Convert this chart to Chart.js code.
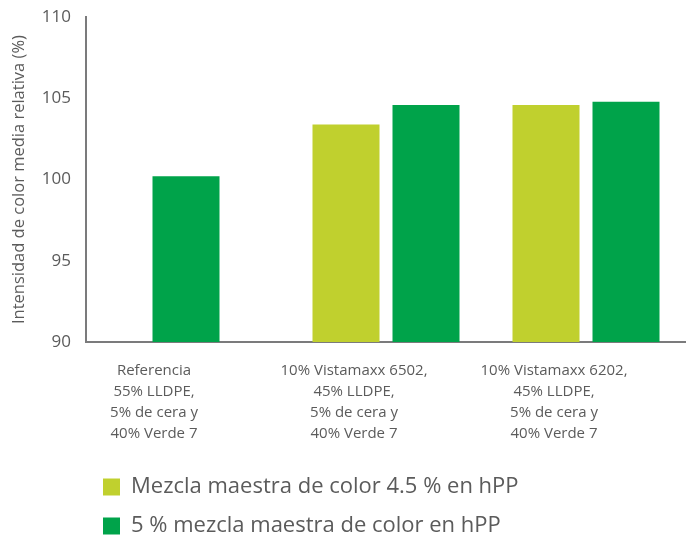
<!DOCTYPE html>
<html>
<head>
<meta charset="utf-8">
<script src="https://cdn.jsdelivr.net/npm/chart.js@4"></script>
<style>
  body { margin: 0; background: #fff; }
  #wrap { width: 686px; height: 538px; }
</style>
</head>
<body>
<div id="wrap"><canvas id="barChart"></canvas></div>
<script>
const categories = [
    ["Referencia", "55% LLDPE,", "5% de cera y", "40% Verde 7"],
    ["10% Vistamaxx 6502,", "45% LLDPE,", "5% de cera y", "40% Verde 7"],
    ["10% Vistamaxx 6202,", "45% LLDPE,", "5% de cera y", "40% Verde 7"]
];
const seriesNames = ["Mezcla maestra de color 4.5 % en hPP", "5 % mezcla maestra de color en hPP"];
const limeValues = [null, 103.4, 104.6];
const greenValues = [100.2, 104.6, 104.8];
const yTicks = [90, 95, 100, 105, 110];

const grey = "#5b5b5b";
const axisGrey = "#7b7b7c";

const ctx = document.getElementById("barChart").getContext("2d");
const myChart = new Chart(ctx, {
    type: "bar",
    data: {
        labels: categories,
        datasets: [
            {
                label: seriesNames[0],
                backgroundColor: "rgb(192, 208, 46)",
                data: limeValues,
            },
            {
                label: seriesNames[1],
                backgroundColor: "rgb(0, 163, 74)",
                data: greenValues,
            },
        ],
    },
    options: {
        responsive: true,
        maintainAspectRatio: false,
        animation: false,
        skipNull: true,
        categoryPercentage: 0.8,
        barPercentage: 0.8375,
        maxBarThickness: 67,
        layout: {
            padding: { top: 9, right: 0, bottom: -9, left: 0 }
        },
        plugins: {
            tooltip: { enabled: false },
            legend: {
                position: "bottom",
                align: "start",
                fullSize: false,
                labels: {
                    boxWidth: 17,
                    boxHeight: 17,
                    padding: 17,
                    color: grey,
                    font: { family: "Open Sans", size: 22 }
                }
            }
        },
        scales: {
            x: {
                offset: true,
                grid: { display: false },
                border: { display: true, color: axisGrey, width: 2 },
                ticks: {
                    color: grey,
                    padding: 10,
                    labelOffset: -32,
                    maxRotation: 0,
                    autoSkip: false,
                    font: { family: "Open Sans", size: 15, lineHeight: 1.4 }
                },
                afterFit: (s) => { s.height = 117; }
            },
            y: {
                min: 90,
                max: 110,
                afterBuildTicks: (s) => { s.ticks = yTicks.map(v => ({ value: v })); },
                grid: { display: false },
                border: { display: true, color: axisGrey, width: 2 },
                ticks: {
                    color: grey,
                    padding: 7,
                    font: { family: "Open Sans", size: 17 }
                },
                title: {
                    display: true,
                    text: "Intensidad de color media relativa (%)",
                    color: grey,
                    padding: { top: 9, bottom: 0 },
                    font: { family: "Open Sans", size: 16.5 }
                },
                afterFit: (s) => { s.width = 86; }
            }
        }
    }
});
</script>
</body>
</html>
